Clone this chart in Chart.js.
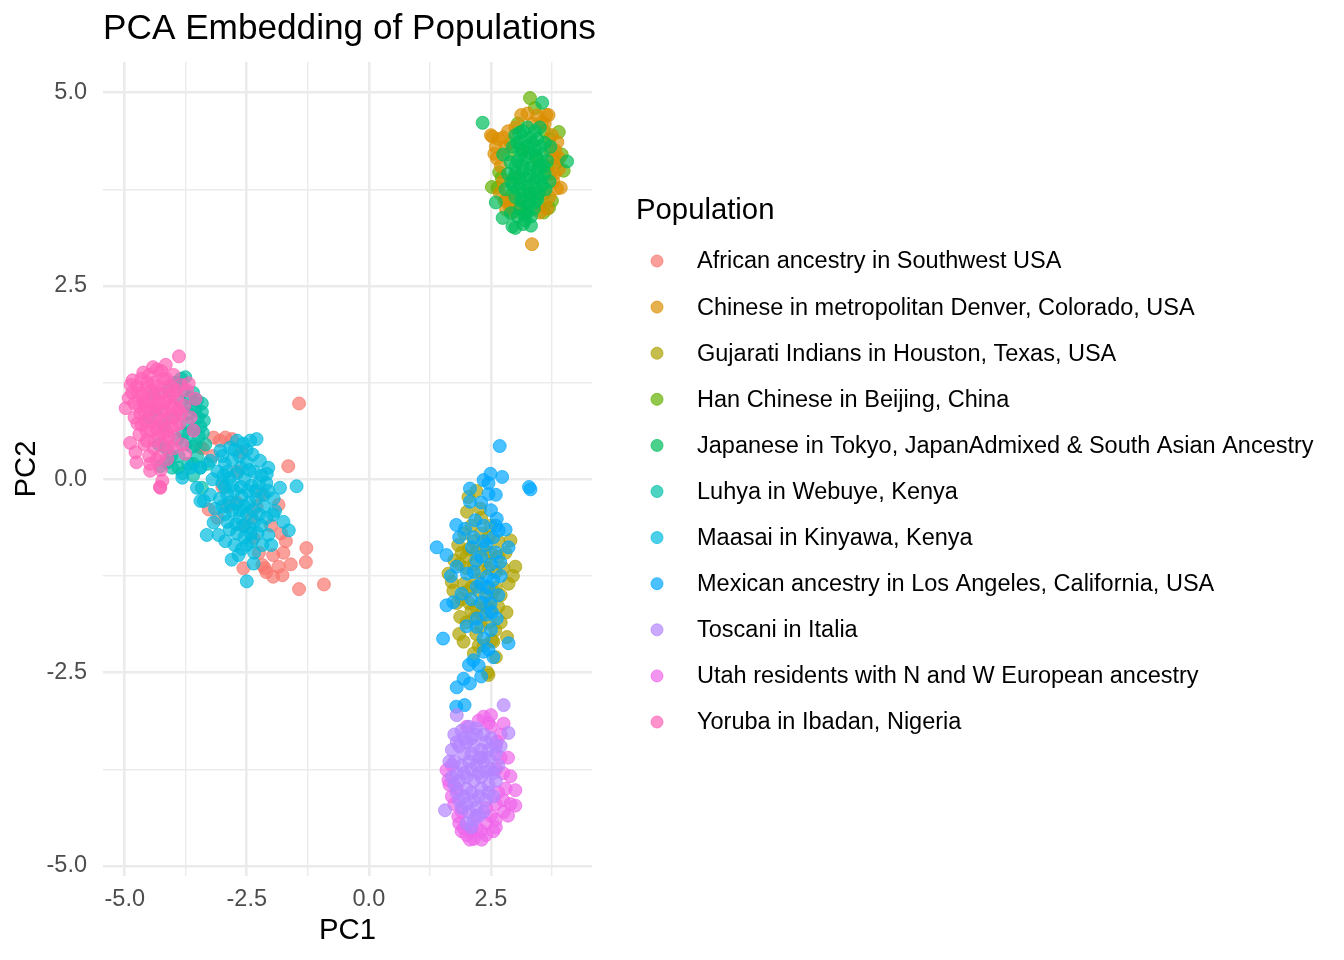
<!DOCTYPE html>
<html>
<head>
<meta charset="utf-8">
<title>PCA Embedding of Populations</title>
<script src="https://cdn.jsdelivr.net/npm/chart.js@4.4.1/dist/chart.umd.min.js"></script>
<style>
  html, body { margin: 0; padding: 0; background: #fff; }
  #wrap { width: 1344px; height: 960px; }
</style>
</head>
<body>
<div id="wrap"><canvas id="pca" width="1344" height="960"></canvas></div>
<script>
// PCA scatter: 11 populations
const populations = [
  "African ancestry in Southwest USA",
  "Chinese in metropolitan Denver, Colorado, USA",
  "Gujarati Indians in Houston, Texas, USA",
  "Han Chinese in Beijing, China",
  "Japanese in Tokyo, JapanAdmixed & South Asian Ancestry",
  "Luhya in Webuye, Kenya",
  "Maasai in Kinyawa, Kenya",
  "Mexican ancestry in Los Angeles, California, USA",
  "Toscani in Italia",
  "Utah residents with N and W European ancestry",
  "Yoruba in Ibadan, Nigeria"
];
const popColors = ["#F8766D","#DB8E00","#AEA200","#64B200","#00BD5C","#00C1A7",
                   "#00BADE","#00A6FF","#B385FF","#EF67EB","#FF63B6"];
// higher = drawn first (underneath)
const drawOrder = [11, 9, 8, 10, 7, 6, 5, 4, 2, 3, 1];

const xTicks = [-5, -3.75, -2.5, -1.25, 0, 1.25, 2.5, 3.75];
const yTicks = [-5, -3.75, -2.5, -1.25, 0, 1.25, 2.5, 3.75, 5];
const xLabels = {"-5": "-5.0", "-2.5": "-2.5", "0": "0.0", "2.5": "2.5"};
const yLabels = {"-5": "-5.0", "-2.5": "-2.5", "0": "0.0", "2.5": "2.5", "5": "5.0"};

const african = [[-1.43,0.98],[-1.65,0.17],[-3.18,0.54],[-2.94,0.54],[-3.05,0.5],[-2.8,0.52],[-3.45,0.41],
  [-1.28,-0.89],[-1.29,-1.07],[-0.92,-1.36],[-1.43,-1.42],[-1.96,-0.98],[-2.13,-1.15],[-1.96,-1.26],
  [-2.57,-1.15],[-1.85,-0.33],[-3.28,-0.39],[-2.36,-0.76],[-1.8,-0.7],[-1.7,-0.8],[-2.18,-1.11],
  [-2.1,-1.2],[-1.85,-1.13],[-1.77,-1.24],[-3.2,0.3],[-3.0,-0.1],[-2.7,-0.3],[-2.4,-0.5],[-2.2,-0.2],
  [-2.0,-0.6],[-3.1,-0.5],[-2.6,0.35],[-3.4,0.4],[-1.75,-0.95],[-2.25,-0.95],[-1.6,-1.1],
  [-2.9,-0.35],[-2.55,-0.6],[-2.3,-0.35],[-2.7,0.1]];

const chinese = [[3.34,3.04],[3.25,4.73],[3.68,4.71],[2.53,4.43],[2.57,4.21],[3.86,4.36],[3.93,3.77],
  [3.89,4.01],[2.81,3.49],[3.76,4.16],[3.85,3.76],[2.5,4.45],[3.12,4.71],[3.63,4.71],[2.65,4.4],
  [2.7,4.05],[2.8,4.3],[2.75,3.85],[3.8,3.95],[3.75,4.45],[3.7,3.65],[3.65,3.5],[2.9,3.6],[3.82,4.25],
  [2.85,4.5],[3.35,4.6],[3.1,3.55],[3.5,3.45],[2.68,3.7],[3.9,4.15],[3.6,4.6],[3.0,4.55],[2.95,3.45],
  [3.45,4.7],[2.6,4.3],[2.62,4.15],[2.78,3.6],[3.78,3.85],[3.72,4.25],[2.75,4.42],[3.55,4.62]];

const gujarati = [[2.04,-0.23],[2.01,-0.42],[2.28,-0.38],[1.83,-0.85],[2.90,-0.79],[3.0,-1.13],
  [1.63,-1.22],[1.70,-1.33],[2.86,-1.35],[2.82,-1.72],[1.87,-1.78],[1.94,-2.10],[2.59,-1.95],
  [2.83,-2.04],[2.52,-2.08],[2.45,-2.53],[1.73,-1.44],[2.43,-2.50],[1.9,-0.95],[2.05,-0.9],[2.2,-0.95],
  [2.35,-0.9],[2.5,-0.95],[2.65,-1.0],[1.85,-1.1],[2.0,-1.15],[2.15,-1.1],[2.3,-1.2],[2.45,-1.15],
  [2.6,-1.2],[2.75,-1.15],[1.95,-1.35],[2.1,-1.4],[2.25,-1.45],[2.4,-1.4],[2.55,-1.45],[2.7,-1.5],
  [1.9,-1.55],[2.05,-1.6],[2.2,-1.65],[2.35,-1.6],[2.5,-1.7],[2.65,-1.65],[2.0,-1.85],[2.15,-1.8],
  [2.3,-1.9],[2.45,-1.85],[2.2,-2.0],[2.35,-2.15],[2.1,-0.6],[2.3,-0.7],[2.5,-0.6],[2.65,-0.8],
  [1.95,-0.7],[2.8,-0.95],[1.75,-1.05],[2.95,-1.25],[2.15,-2.25],[2.6,-2.3],[2.3,-0.5],[2.2,-0.15],
  [2.0,-1.0],[2.4,-1.05],[2.2,-1.3],[2.5,-1.55],[2.3,-1.75],[2.1,-1.7],[2.6,-1.4],[2.0,-1.45],
  [2.4,-1.65],[2.7,-1.85],[1.8,-1.6],[2.15,-0.8],[2.45,-0.75],[2.55,-2.1],[2.25,-2.15],[1.85,-2.0]];

const han = [[3.30,4.93],[3.89,4.49],[2.67,3.97],[2.64,3.77],[3.99,3.99],[3.69,3.51],[2.81,3.62],
  [3.4,4.8],[3.7,4.4],[3.85,4.1],[2.72,3.9],[2.9,4.35],[3.05,4.6],[3.6,3.7],[3.5,3.55],[3.2,3.45],
  [2.9,3.5],[3.65,4.05],[3.45,4.15],[3.15,4.25],[3.3,3.7],[3.75,3.6],[3.58,3.45],[2.98,3.9],[3.95,4.2],
  [2.52,3.78],[2.85,4.2],[3.6,4.5],[3.7,3.95],[2.95,3.7]];

const japanese = [[2.33,4.61],[3.55,4.87],[2.60,3.58],[2.74,3.38],[2.94,3.27],[4.06,4.11],[2.91,3.44],
  [3.16,3.30],[3.0,4.45],[3.15,4.5],[3.3,4.42],[3.45,4.4],[3.6,4.35],[2.95,4.3],[3.1,4.28],[3.25,4.3],
  [3.4,4.25],[3.55,4.2],[2.9,4.1],[3.05,4.12],[3.2,4.15],[3.35,4.08],[3.5,4.05],[3.65,4.12],[2.85,3.95],
  [3.0,3.95],[3.15,3.98],[3.3,3.92],[3.45,3.9],[3.6,3.95],[2.95,3.8],[3.1,3.82],[3.25,3.78],[3.4,3.75],
  [3.55,3.8],[3.0,3.65],[3.15,3.62],[3.3,3.6],[3.45,3.62],[3.1,3.5],[3.25,3.45],[3.38,3.5],[3.2,3.35],
  [3.05,3.4],[2.8,3.75],[3.7,3.85],[3.25,4.55],[3.5,4.55],[2.75,4.2],[3.72,4.3],[3.0,3.25],[3.32,3.28],
  [3.05,4.35],[3.2,4.38],[3.35,4.35],[3.5,4.3],[3.12,4.2],[3.28,4.22],[3.42,4.18],[3.0,4.05],[3.15,4.05],
  [3.3,4.02],[3.45,4.0],[3.58,4.05],[3.08,3.9],[3.22,3.88],[3.38,3.85],[3.52,3.88],[3.05,3.75],
  [3.18,3.72],[3.32,3.7],[3.48,3.7],[3.12,3.6],[3.25,3.55],[3.4,3.58],[3.18,3.42],[3.32,3.4],
  [2.92,3.85],[3.62,3.75],[3.08,4.48],[3.4,4.5]];

const luhya = [[-3.76,1.32],[-3.52,1.02],[-3.42,0.98],[-3.42,0.87],[-3.38,0.76],[-3.45,0.68],[-3.55,0.9],
  [-3.6,1.12],[-3.48,0.55],[-3.62,0.42],[-3.7,0.2],[-3.52,0.3],[-3.42,-0.11],[-3.6,0.05],[-3.82,0.08],
  [-4.03,0.15],[-4.27,0.17],[-4.12,0.22],[-3.9,0.3],[-3.8,0.6],[-3.7,0.85],[-3.66,1.05],[-3.85,1.0],
  [-4.0,0.8],[-4.2,0.7],[-4.35,0.9],[-4.5,0.8],[-4.1,1.15],[-3.95,1.25],[-4.3,0.45],[-3.75,0.45],
  [-3.35,0.45],[-3.3,0.2],[-3.58,0.65],[-3.92,0.52],[-4.15,0.4],[-3.72,0.72],[-3.45,0.15],[-3.85,1.3],
  [-4.4,1.1],[-3.8,1.15],[-3.65,0.95],[-3.5,0.8],[-3.4,0.6],[-3.55,0.45],[-3.68,0.6],[-3.9,0.15],
  [-4.05,0.3],[-3.6,0.2]];

const maasai = [[-2.30,0.52],[-2.70,0.50],[-2.43,0.50],[-2.84,0.41],[-2.57,0.46],[-3.04,0.37],[-3.25,0.24],
  [-3.45,0.15],[-3.65,0.15],[-3.82,0.02],[-3.52,-0.11],[-3.45,-0.28],[-3.38,-0.28],[-3.18,-0.56],
  [-3.32,-0.72],[-3.08,-0.72],[-2.94,-0.80],[-2.81,-1.04],[-2.67,-0.98],[-2.50,-1.32],[-2.36,-1.09],
  [-2.06,-0.72],[-1.96,-0.46],[-1.92,-0.41],[-2.06,-0.15],[-2.09,0.07],[-2.06,0.15],[-2.23,0.24],
  [-1.82,-0.11],[-1.48,-0.09],[-1.64,-0.66],[-1.75,-0.55],[-3.1,0.1],[-2.95,0.2],[-2.8,0.25],[-2.65,0.3],
  [-2.5,0.22],[-2.35,0.1],[-3.0,-0.05],[-2.85,0.02],[-2.7,0.08],[-2.55,0.0],[-2.4,-0.08],[-2.25,-0.05],
  [-3.05,-0.25],[-2.9,-0.2],[-2.75,-0.15],[-2.6,-0.22],[-2.45,-0.3],[-2.3,-0.25],[-2.15,-0.35],
  [-2.95,-0.45],[-2.8,-0.4],[-2.65,-0.5],[-2.5,-0.45],[-2.35,-0.55],[-2.2,-0.6],[-2.85,-0.65],
  [-2.7,-0.7],[-2.55,-0.75],[-2.4,-0.8],[-2.6,-0.9],[-2.45,-0.62],[-3.15,-0.38],[-2.72,-0.32],
  [-2.38,0.32],[-2.18,-0.85],[-2.98,0.05],[-3.0,0.3],[-2.75,0.38],[-2.5,0.38],[-2.9,0.1],[-2.62,0.15],
  [-2.45,0.12],[-2.2,0.05],[-2.95,-0.1],[-2.8,-0.08],[-2.62,-0.1],[-2.48,-0.15],[-2.32,-0.15],
  [-2.15,-0.2],[-3.0,-0.35],[-2.85,-0.3],[-2.55,-0.35],[-2.38,-0.4],[-2.25,-0.45],[-2.1,-0.5],
  [-2.9,-0.55],[-2.72,-0.58],[-2.58,-0.6],[-2.42,-0.7],[-2.28,-0.7],[-2.75,-0.85],[-2.5,-0.85],
  [-2.35,-0.95],[-2.65,-0.4],[-3.2,0.0],[-3.25,-0.2],[-2.1,-0.05],[-1.95,-0.25],[-2.0,-0.85]];

const mexican = [[2.68,0.43],[2.49,0.07],[2.35,-0.01],[2.73,0.03],[3.28,-0.10],[3.31,-0.13],[2.07,-0.12],
  [2.45,-0.19],[2.6,-0.2],[2.07,-0.29],[2.18,-0.53],[1.79,-0.59],[1.97,-0.64],[2.62,-0.51],[2.66,-0.66],
  [1.39,-0.88],[1.59,-0.98],[2.14,-0.75],[2.11,-0.88],[2.86,-0.88],[2.69,-1.07],[1.80,-1.13],[2.01,-1.22],
  [2.42,-1.26],[2.21,-1.39],[1.90,-1.48],[1.59,-1.63],[1.73,-1.59],[2.49,-1.61],[2.52,-1.72],[2.62,-1.80],
  [2.21,-1.80],[2.21,-1.91],[1.52,-2.06],[2.35,-2.06],[2.86,-2.12],[2.35,-2.23],[2.14,-2.34],[2.55,-2.30],
  [2.25,-2.41],[1.94,-2.58],[1.80,-2.69],[2.07,-2.64],[2.5,-0.4],[2.55,-0.75],[2.4,-0.85],[2.6,-0.95],
  [2.3,-1.0],[2.5,-1.1],[2.15,-1.2],[2.3,-1.35],[2.55,-1.3],[2.1,-1.55],[2.4,-1.5],[2.5,-1.95],
  [2.35,-0.6],[2.2,-1.05],[1.79,-2.94],[1.96,-2.92],[2.45,-0.05],[2.3,-0.3],[2.6,-0.6],[2.45,-1.4],
  [2.65,-1.5],[2.3,-1.6],[2.4,-1.75],[2.45,-2.2],[2.7,-1.25],[2.35,-0.8],[1.85,-0.75],[2.05,-2.4],
  [2.3,-2.55],[2.0,-1.9],[1.68,-1.25],[2.8,-0.65]];

const toscani = [[2.76,-2.92],[2.86,-3.28],[1.56,-4.28],[1.80,-3.05],[1.75,-3.3],[1.9,-3.25],[2.05,-3.2],
  [2.2,-3.22],[2.35,-3.3],[2.5,-3.35],[1.7,-3.5],[1.85,-3.45],[2.0,-3.4],[2.15,-3.45],[2.3,-3.5],
  [2.45,-3.5],[2.6,-3.55],[1.75,-3.65],[1.9,-3.7],[2.05,-3.65],[2.2,-3.7],[2.35,-3.65],[2.5,-3.75],
  [2.65,-3.7],[1.7,-3.85],[1.85,-3.9],[2.0,-3.85],[2.15,-3.9],[2.3,-3.85],[2.45,-3.95],[2.6,-3.9],
  [1.8,-4.05],[1.95,-4.1],[2.1,-4.05],[2.25,-4.1],[2.4,-4.15],[2.55,-4.1],[1.9,-4.25],[2.05,-4.3],
  [2.2,-4.25],[2.35,-4.3],[2.0,-4.45],[2.15,-4.4],[1.95,-3.55],[2.25,-3.6],[2.4,-3.4],[1.65,-3.65],
  [2.7,-3.45],[2.1,-3.35],[1.8,-3.4],[1.95,-3.35],[2.1,-3.55],[2.3,-3.6],[2.45,-3.6],[1.8,-3.8],
  [1.95,-3.8],[2.1,-3.75],[2.25,-3.8],[2.4,-3.78],[2.55,-3.8],[1.85,-4.15],[2.0,-4.0],[2.15,-4.15],
  [2.3,-4.0],[2.45,-4.05],[2.0,-4.2],[2.25,-4.35],[2.1,-4.5],[1.75,-3.95],[2.6,-3.45],[2.2,-3.3]];

const utah = [[2.35,-3.07],[2.76,-3.16],[2.62,-3.39],[2.90,-3.84],[3.0,-4.02],[3.0,-4.22],[2.76,-4.30],
  [2.07,-4.66],[2.31,-4.66],[2.42,-4.45],[1.94,-4.51],[1.63,-3.89],[1.59,-3.76],[1.83,-4.36],[2.25,-3.12],
  [2.5,-3.2],[2.7,-3.6],[2.8,-4.0],[2.85,-4.35],[2.6,-4.4],[2.55,-4.55],[2.2,-4.5],[2.1,-4.55],
  [1.85,-4.45],[1.7,-4.1],[1.75,-4.2],[2.0,-4.6],[2.3,-4.55],[2.6,-4.2],[2.75,-3.8],[2.65,-4.05],
  [1.65,-3.95],[1.8,-4.0],[2.45,-3.15],[2.0,-3.2],[2.5,-4.35],[2.2,-4.35],[1.9,-4.3],[2.4,-4.25],[2.7,-3.3],
  [2.5,-3.05],[2.6,-3.75],[2.75,-4.15],[2.4,-4.6],[1.9,-4.55],[2.15,-4.65],[2.85,-3.6],[2.9,-4.2],
  [1.7,-3.7],[2.6,-4.5]];

const yoruba = [[-4.98,0.92],[-4.92,1.05],[-4.88,1.22],[-4.84,1.28],[-4.8,0.98],[-4.78,0.35],[-4.76,0.22],
  [-4.74,0.72],[-4.72,1.12],[-4.7,0.58],[-4.68,0.85],[-4.66,1.3],[-4.62,1.02],[-4.6,0.45],[-4.58,0.75],
  [-4.55,1.18],[-4.52,0.9],[-4.5,1.35],[-4.48,0.11],[-4.46,0.62],[-4.44,1.05],[-4.42,0.82],[-4.4,1.25],
  [-4.38,0.5],[-4.36,0.95],[-4.34,1.42],[-4.32,0.7],[-4.3,1.12],[-4.28,0.3],[-4.27,-0.11],[-4.25,0.88],
  [-4.23,-0.02],[-4.22,1.3],[-4.2,0.6],[-4.18,1.0],[-4.16,1.48],[-4.15,0.78],[-4.12,1.2],[-4.1,0.42],
  [-4.08,0.95],[-4.05,0.68],[-4.02,1.1],[-4.0,1.35],[-3.98,0.55],[-3.95,0.85],[-3.92,1.05],[-3.89,1.59],
  [-3.88,0.72],[-3.85,1.22],[-3.82,0.45],[-3.78,0.95],[-3.76,0.33],[-3.72,1.15],[-3.69,1.24],[-3.65,0.8],
  [-3.59,0.63],[-3.55,1.04],[-4.13,0.26],[-4.48,0.2],[-4.6,0.98],[-4.89,0.47],[-4.26,0.12],[-4.28,-0.10],
  [-4.75,1.2],[-4.65,1.1],[-4.55,1.25],[-4.45,1.15],[-4.35,1.2],[-4.25,1.1],[-4.15,1.3],[-4.05,1.2],
  [-3.95,1.15],[-4.7,0.95],[-4.6,0.88],[-4.5,1.0],[-4.4,0.92],[-4.3,1.0],[-4.2,0.9],[-4.1,1.05],
  [-4.0,0.95],[-3.9,0.9],[-4.65,0.7],[-4.55,0.62],[-4.45,0.75],[-4.35,0.65],[-4.25,0.75],[-4.15,0.62],
  [-4.05,0.8],[-3.95,0.7],[-4.55,0.5],[-4.4,0.4],[-4.3,0.55],[-4.2,0.45],[-4.1,0.55],[-4.85,1.12],
  [-4.8,0.8],[-4.62,1.38],[-4.42,1.45],[-4.25,1.4],[-3.85,0.85],[-4.5,0.3],[-4.35,0.25],[-4.0,0.4]];

const popPoints = [african, chinese, gujarati, han, japanese, luhya, maasai, mexican, toscani, utah, yoruba];

function withAlpha(hex, a) {
  const n = parseInt(hex.slice(1), 16);
  return `rgba(${n >> 16},${(n >> 8) & 255},${n & 255},${a})`;
}

const FONT = "'Liberation Sans', Arial, Helvetica, sans-serif";
Chart.defaults.font.family = FONT;

// title, axis titles and legend drawn on top of the chart
const decor = {
  id: 'decor',
  afterDraw(chart) {
    const ctx = chart.ctx, a = chart.chartArea;
    ctx.save();
    ctx.fillStyle = '#000';
    ctx.textBaseline = 'middle';
    ctx.textAlign = 'left';
    ctx.font = `35.2px ${FONT}`;
    ctx.fillText('PCA Embedding of Populations', 103, 29);

    ctx.font = `29.3px ${FONT}`;
    ctx.textAlign = 'center';
    ctx.fillText('PC1', (a.left + a.right) / 2, 931);
    ctx.save();
    ctx.translate(27, (a.top + a.bottom) / 2);
    ctx.rotate(-Math.PI / 2);
    ctx.fillText('PC2', 0, 0);
    ctx.restore();

    ctx.textAlign = 'left';
    ctx.fillText('Population', 636, 211);
    ctx.font = `23.5px ${FONT}`;
    populations.forEach((name, i) => {
      const y = 261 + i * 46.1;
      ctx.beginPath();
      ctx.arc(657, y, 6, 0, Math.PI * 2);
      ctx.fillStyle = withAlpha(popColors[i], 0.7);
      ctx.fill();
      ctx.lineWidth = 1;
      ctx.strokeStyle = withAlpha(popColors[i], 0.7);
      ctx.stroke();
      ctx.fillStyle = '#000';
      ctx.fillText(name, 697, y + 1);
    });
    ctx.restore();
  }
};

const isMajor = (v, labels) => labels[String(v)] !== undefined;

new Chart(document.getElementById('pca'), {
  type: 'scatter',
  data: {
    datasets: populations.map((name, i) => ({
      label: name,
      data: popPoints[i].map(p => ({x: p[0], y: p[1]})),
      order: drawOrder[i],
      backgroundColor: withAlpha(popColors[i], 0.7),
      borderColor: withAlpha(popColors[i], 0.7),
      borderWidth: 1,
      pointRadius: 6.5,
      pointHoverRadius: 6.5
    }))
  },
  options: {
    responsive: false,
    animation: false,
    events: [],
    layout: { padding: { top: 62, right: 752, bottom: 0, left: 0 } },
    plugins: { legend: { display: false }, tooltip: { enabled: false }, title: { display: false } },
    scales: {
      x: {
        type: 'linear', min: -5.445, max: 4.57,
        afterFit(s) { s.height = 84; },
        afterBuildTicks(s) { s.ticks = xTicks.map(v => ({value: v})); },
        border: { display: false },
        grid: {
          drawTicks: false,
          color: '#EBEBEB',
          lineWidth: c => isMajor(c.tick.value, xLabels) ? 2.6 : 1.4
        },
        ticks: {
          autoSkip: false, maxRotation: 0, padding: 9,
          color: '#4D4D4D', font: { size: 23.5 },
          callback: v => xLabels[String(v)] || ''
        }
      },
      y: {
        type: 'linear', min: -5.13, max: 5.396,
        afterFit(s) { s.width = 103; },
        afterBuildTicks(s) { s.ticks = yTicks.map(v => ({value: v})); },
        border: { display: false },
        grid: {
          drawTicks: false,
          color: '#EBEBEB',
          lineWidth: c => isMajor(c.tick.value, yLabels) ? 2.6 : 1.4
        },
        ticks: {
          autoSkip: false, padding: 16,
          color: '#4D4D4D', font: { size: 23.5 },
          callback: v => yLabels[String(v)] || ''
        }
      }
    }
  },
  plugins: [decor]
});
</script>
</body>
</html>
